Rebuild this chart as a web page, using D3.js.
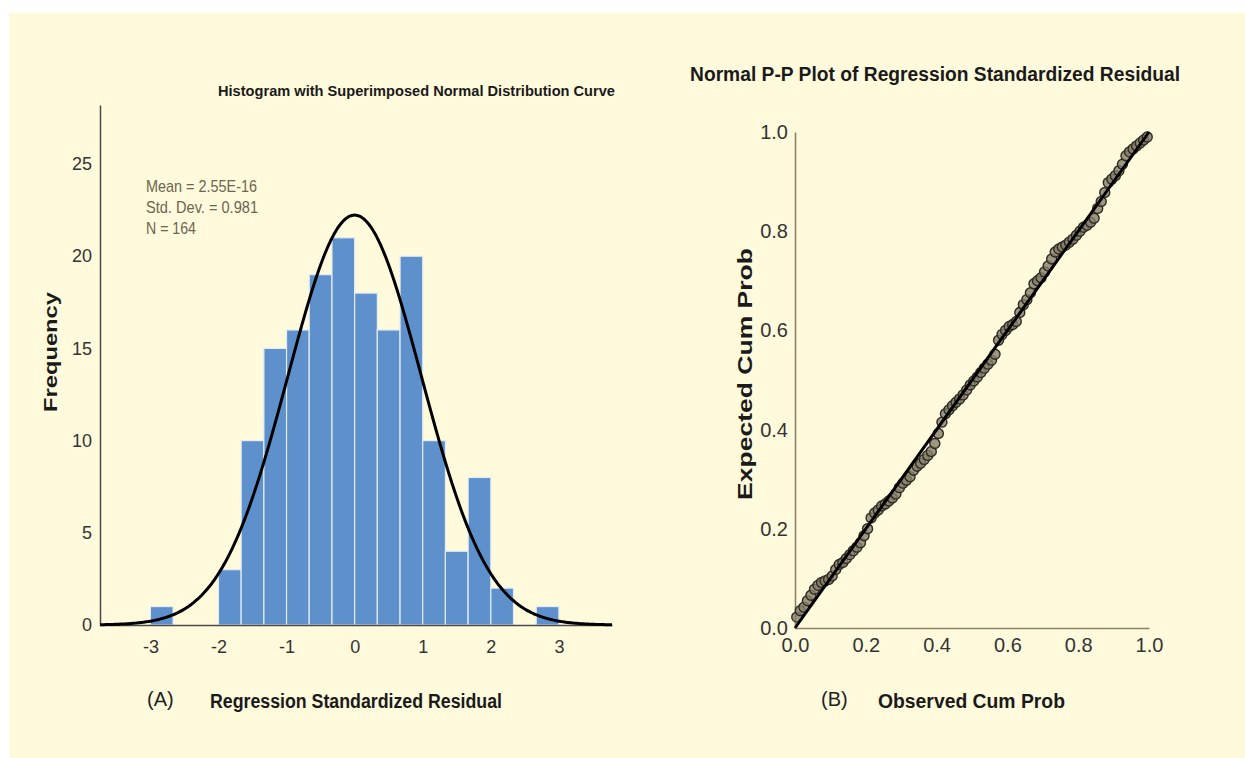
<!DOCTYPE html>
<html>
<head>
<meta charset="utf-8">
<script src="https://cdn.jsdelivr.net/npm/d3@7"></script>
<style>
body { margin: 0; background: #fff; }
text { font-family: "Liberation Sans", Arial, sans-serif; }
</style>
</head>
<body>
<div id="chart"></div>
<script>
const width = 1245;
const height = 758;

// histogram (A)
const binStart = [-3, -2, -1.667, -1.333, -1, -0.667, -0.333, 0, 0.333, 0.667, 1, 1.333, 1.667, 2, 2.667];
const binCount = [1, 3, 10, 15, 16, 19, 21, 18, 16, 20, 10, 4, 8, 2, 1];
const binWidth = 1 / 3;
const histXTicks = [-3, -2, -1, 0, 1, 2, 3];
const histYTicks = [0, 5, 10, 15, 20, 25];
const statLines = ["Mean = 2.55E-16", "Std. Dev. = 0.981", "N = 164"];
const mean = 2.55e-16;
const stdDev = 0.981;
const nObs = 164;

// P-P plot (B)
const ppObserved = [0.005, 0.015, 0.025, 0.035, 0.045, 0.055, 0.065, 0.075, 0.085, 0.095,
    0.105, 0.115, 0.125, 0.135, 0.145, 0.155, 0.165, 0.175, 0.185, 0.195,
    0.205, 0.215, 0.225, 0.235, 0.245, 0.255, 0.265, 0.275, 0.285, 0.295,
    0.305, 0.315, 0.325, 0.335, 0.345, 0.355, 0.365, 0.375, 0.385, 0.395,
    0.405, 0.415, 0.425, 0.435, 0.445, 0.455, 0.465, 0.475, 0.485, 0.495,
    0.505, 0.515, 0.525, 0.535, 0.545, 0.555, 0.565, 0.575, 0.585, 0.595,
    0.605, 0.615, 0.625, 0.635, 0.645, 0.655, 0.665, 0.675, 0.685, 0.695,
    0.705, 0.715, 0.725, 0.735, 0.745, 0.755, 0.765, 0.775, 0.785, 0.795,
    0.805, 0.815, 0.825, 0.835, 0.845, 0.855, 0.865, 0.875, 0.885, 0.895,
    0.905, 0.915, 0.925, 0.935, 0.945, 0.955, 0.965, 0.975, 0.985, 0.995];
const ppExpected = [0.022, 0.035, 0.042, 0.055, 0.066, 0.078, 0.086, 0.092, 0.095, 0.098,
    0.105, 0.118, 0.128, 0.132, 0.140, 0.148, 0.156, 0.163, 0.172, 0.186,
    0.200, 0.222, 0.232, 0.238, 0.246, 0.250, 0.256, 0.262, 0.270, 0.283,
    0.292, 0.298, 0.305, 0.318, 0.326, 0.332, 0.340, 0.348, 0.356, 0.372,
    0.392, 0.415, 0.432, 0.440, 0.448, 0.455, 0.462, 0.470, 0.480, 0.490,
    0.498, 0.506, 0.515, 0.524, 0.532, 0.540, 0.552, 0.580, 0.592, 0.600,
    0.608, 0.612, 0.618, 0.636, 0.652, 0.662, 0.676, 0.694, 0.700, 0.706,
    0.718, 0.730, 0.744, 0.758, 0.764, 0.768, 0.772, 0.778, 0.784, 0.792,
    0.800, 0.808, 0.812, 0.818, 0.826, 0.846, 0.860, 0.878, 0.898, 0.905,
    0.912, 0.922, 0.935, 0.952, 0.960, 0.966, 0.972, 0.978, 0.984, 0.990];
const ppTicks = [0, 0.2, 0.4, 0.6, 0.8, 1.0];
const ppRef = [0, 1];


const svg = d3.select("#chart").append("svg").attr("width", width).attr("height", height);

svg.append("rect")
    .attr("x", 9)
    .attr("y", 13)
    .attr("width", width - 9)
    .attr("height", height - 13)
    .attr("fill", "#fffadc");


//---------- histogram ----------
const hx = d3.scaleLinear().domain([-3.74, 3.78]).range([100, 612]);
const hy = d3.scaleLinear().domain([0, 28.2]).range([625, 105]);

const gA = svg.append("g");

gA.selectAll("rect.bar")
    .data(binStart)
    .join("rect")
    .attr("class", "bar")
    .attr("x", d => hx(d))
    .attr("y", (d, i) => hy(binCount[i]))
    .attr("width", d => hx(d + binWidth) - hx(d))
    .attr("height", (d, i) => hy(0) - hy(binCount[i]))
    .attr("fill", "#5e91cb")
    .attr("stroke", "#e4ecf2")
    .attr("stroke-width", 1.2);

gA.append("g")
    .attr("transform", `translate(100,0)`)
    .call(d3.axisLeft(hy).tickValues(histYTicks).tickFormat(d => String(d)).tickSize(0).tickPadding(8))
    .call(g => g.select(".domain").attr("stroke", "#4a4a4a").attr("stroke-width", 1.5))
    .call(g => g.selectAll("text").attr("font-size", 18).attr("fill", "#333").attr("font-family", "Liberation Sans, Arial, sans-serif"));

gA.append("g")
    .attr("transform", `translate(0,${hy(0)})`)
    .call(d3.axisBottom(hx).tickValues(histXTicks).tickFormat(d => String(d)).tickSize(0).tickPadding(15))
    .call(g => g.select(".domain").attr("stroke", "#4a4a4a").attr("stroke-width", 1.5))
    .call(g => g.selectAll("text").attr("font-size", 18).attr("fill", "#333").attr("font-family", "Liberation Sans, Arial, sans-serif"));

// superimposed normal curve from the stated mean / std. dev. / N
const curveXs = d3.range(-3.74, 3.781, 0.02);
const pdf = x => nObs * binWidth / (stdDev * Math.sqrt(2 * Math.PI)) * Math.exp(-0.5 * ((x - mean) / stdDev) ** 2);
gA.append("path")
    .datum(curveXs)
    .attr("fill", "none")
    .attr("stroke", "#000")
    .attr("stroke-width", 3)
    .attr("d", d3.line().x(d => hx(d)).y(d => hy(pdf(d))).curve(d3.curveBasis));

gA.append("text")
    .attr("x", 218)
    .attr("y", 96)
    .attr("font-size", 15)
    .attr("font-weight", "bold")
    .attr("fill", "#1a1a1a")
    .attr("textLength", 397)
    .attr("lengthAdjust", "spacingAndGlyphs")
    .text("Histogram with Superimposed Normal Distribution Curve");

gA.selectAll("text.stat")
    .data(statLines)
    .join("text")
    .attr("class", "stat")
    .attr("x", 146)
    .attr("y", (d, i) => 192 + i * 21)
    .attr("font-size", 17)
    .attr("fill", "#6d6550")
    .attr("textLength", (d, i) => [111, 112, 50][i])
    .attr("lengthAdjust", "spacingAndGlyphs")
    .text(d => d);

gA.append("text")
    .attr("transform", "translate(57,352) rotate(-90)")
    .attr("text-anchor", "middle")
    .attr("font-size", 19)
    .attr("font-weight", "bold")
    .attr("fill", "#1a1a1a")
    .attr("textLength", 120)
    .attr("lengthAdjust", "spacingAndGlyphs")
    .text("Frequency");

gA.append("text")
    .attr("x", 147)
    .attr("y", 706)
    .attr("font-size", 20)
    .attr("fill", "#222")
    .text("(A)");

gA.append("text")
    .attr("x", 210)
    .attr("y", 708)
    .attr("font-size", 20)
    .attr("font-weight", "bold")
    .attr("fill", "#1a1a1a")
    .attr("textLength", 292)
    .attr("lengthAdjust", "spacingAndGlyphs")
    .text("Regression Standardized Residual");


//---------- P-P plot ----------
const px = d3.scaleLinear().domain([0, 1]).range([795, 1149]);
const py = d3.scaleLinear().domain([0, 1]).range([628, 132]);

const gB = svg.append("g");

gB.append("g")
    .attr("transform", `translate(795,0)`)
    .call(d3.axisLeft(py).tickValues(ppTicks).tickFormat(d3.format(".1f")).tickSize(0).tickPadding(7))
    .call(g => g.select(".domain").attr("stroke", "#8b8268").attr("stroke-width", 1.6))
    .call(g => g.selectAll("text").attr("font-size", 20).attr("fill", "#333").attr("font-family", "Liberation Sans, Arial, sans-serif"));

gB.append("g")
    .attr("transform", `translate(0,628)`)
    .call(d3.axisBottom(px).tickValues(ppTicks).tickFormat(d3.format(".1f")).tickSize(0).tickPadding(10))
    .call(g => g.select(".domain").attr("stroke", "#8b8268").attr("stroke-width", 1.6))
    .call(g => g.selectAll("text").attr("font-size", 20).attr("fill", "#333").attr("font-family", "Liberation Sans, Arial, sans-serif"));

gB.selectAll("circle.pp")
    .data(ppObserved)
    .join("circle")
    .attr("class", "pp")
    .attr("cx", d => px(d))
    .attr("cy", (d, i) => py(ppExpected[i]))
    .attr("r", 5)
    .attr("fill", "#847e6c")
    .attr("fill-opacity", 0.8)
    .attr("stroke", "#2f2b22")
    .attr("stroke-width", 1.4);

gB.append("path")
    .datum(ppRef)
    .attr("fill", "none")
    .attr("stroke", "#000")
    .attr("stroke-width", 3)
    .attr("d", d3.line().x(d => px(d)).y(d => py(d)));

gB.append("text")
    .attr("x", 690)
    .attr("y", 81)
    .attr("font-size", 20)
    .attr("font-weight", "bold")
    .attr("fill", "#1a1a1a")
    .attr("textLength", 490)
    .attr("lengthAdjust", "spacingAndGlyphs")
    .text("Normal P-P Plot of Regression Standardized Residual");

gB.append("text")
    .attr("transform", "translate(752,374) rotate(-90)")
    .attr("text-anchor", "middle")
    .attr("font-size", 20)
    .attr("font-weight", "bold")
    .attr("fill", "#1a1a1a")
    .attr("textLength", 252)
    .attr("lengthAdjust", "spacingAndGlyphs")
    .text("Expected Cum Prob");

gB.append("text")
    .attr("x", 821)
    .attr("y", 706)
    .attr("font-size", 20)
    .attr("fill", "#222")
    .text("(B)");

gB.append("text")
    .attr("x", 878)
    .attr("y", 708)
    .attr("font-size", 20)
    .attr("font-weight", "bold")
    .attr("fill", "#1a1a1a")
    .attr("textLength", 187)
    .attr("lengthAdjust", "spacingAndGlyphs")
    .text("Observed Cum Prob");
</script>
</body>
</html>
